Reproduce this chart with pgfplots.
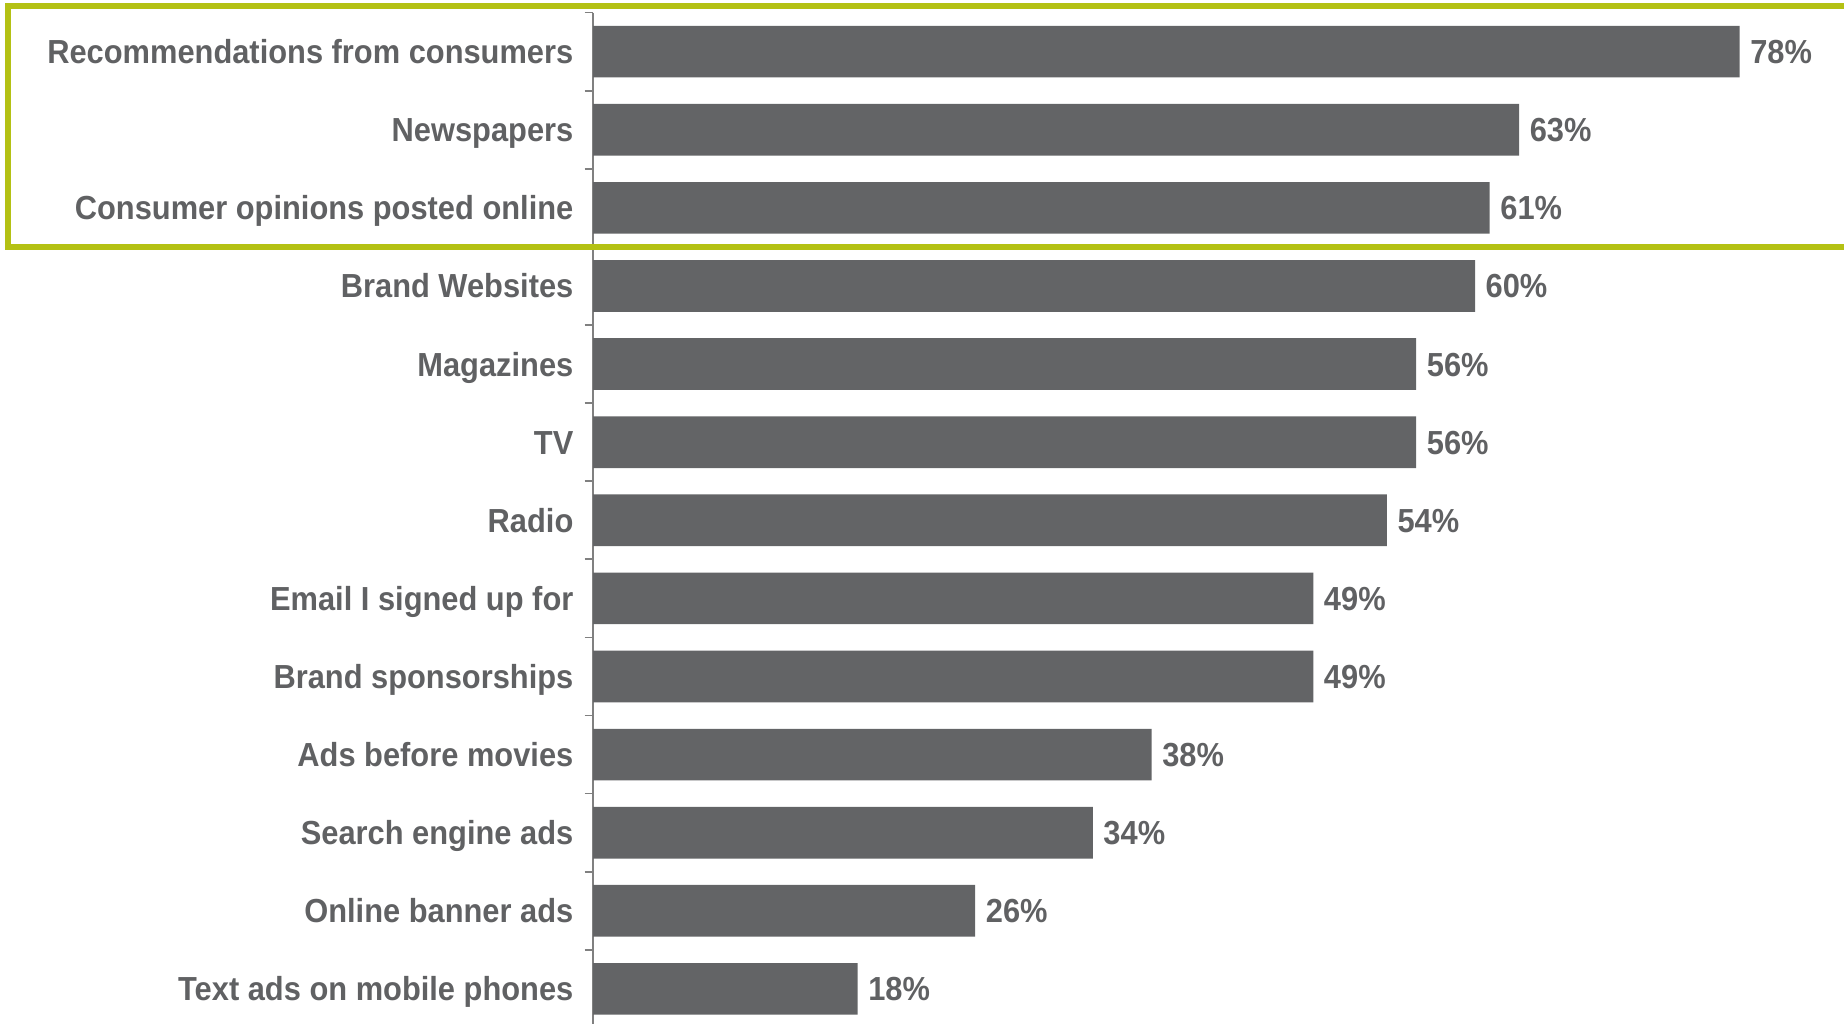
\documentclass[border=0pt]{standalone}
\usepackage{pgfplots}
\pgfplotsset{compat=1.18}
\usepackage{fontspec}
\setmainfont{Liberation Sans}[FakeStretch=0.925]
\definecolor{bargray}{RGB}{99,100,102}
\definecolor{txtgray}{RGB}{96,97,99}
\definecolor{axgray}{RGB}{128,128,128}
\definecolor{boxgreen}{RGB}{180,193,20}
\begin{document}
\begin{tikzpicture}
\path[use as bounding box] (0,0) rectangle (553.2pt,307.2pt);
\begin{axis}[
  at={(177.9pt,-1.18pt)}, anchor=south west,
  scale only axis, width=375.3pt, height=304.6pt,
  xbar, bar width=15.5pt,
  xmin=0, xmax=85.1,
  ymin=-0.5, ymax=12.5, y dir=reverse,
  axis x line=none, axis y line=left,
  axis line style={-, draw=axgray, line width=0.5pt},
  ytick={0,...,12},
  yticklabels={Recommendations from consumers, Newspapers, Consumer opinions posted online, Brand Websites, Magazines, TV, Radio, Email I signed up for, Brand sponsorships, Ads before movies, Search engine ads, Online banner ads, Text ads on mobile phones},
  major tick length=0pt,
  minor ytick={-0.5,0.5,...,12.5},
  minor tick length=2.5pt,
  tick align=outside,
  minor tick style={draw=axgray, line width=0.5pt},
  /pgf/number format/assume math mode=true,
  yticklabel style={font=\fontsize{10}{12}\selectfont\bfseries, text=txtgray, inner sep=0pt, anchor=base east, xshift=-5.7pt, yshift=-3.58pt},
  nodes near coords={\pgfmathprintnumber{\pgfplotspointmeta}\%},
  nodes near coords style={font=\fontsize{10}{12}\selectfont\bfseries, text=txtgray, inner sep=0pt, anchor=base west, xshift=3pt, yshift=-3.58pt},
  clip=false,
]
\addplot[fill=bargray, draw=none] coordinates {
(78,0) (63,1) (61,2) (60,3) (56,4) (56,5) (54,6) (49,7) (49,8) (38,9) (34,10) (26,11) (18,12)
};
\end{axis}
\draw[boxgreen, line width=1.8pt] (560pt,305.4pt) -- (2.25pt,305.4pt) -- (2.25pt,232.95pt) -- (560pt,232.95pt);
\end{tikzpicture}
\end{document}
